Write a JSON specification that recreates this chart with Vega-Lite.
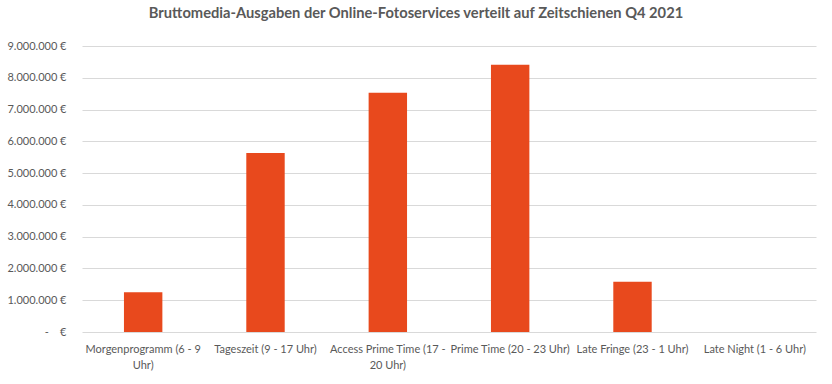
{
  "$schema": "https://vega.github.io/schema/vega-lite/v6.json",
  "width": 734,
  "height": 286,
  "autosize": {"type": "none"},
  "padding": {"left": 82, "top": 46, "right": 16, "bottom": 52},
  "background": "white",
  "title": {
    "text": "Bruttomedia-Ausgaben der Online-Fotoservices verteilt auf Zeitschienen Q4 2021",
    "font": "Lato",
    "fontSize": 14.7,
    "fontWeight": "bold",
    "color": "#595959",
    "anchor": "middle",
    "dx": -33,
    "offset": 19
  },
  "data": {
    "values": [
      {"Zeitschiene": "Morgenprogramm (6 - 9 Uhr)", "Ausgaben": 1250000},
      {"Zeitschiene": "Tageszeit (9 - 17 Uhr)", "Ausgaben": 5630000},
      {"Zeitschiene": "Access Prime Time (17 - 20 Uhr)", "Ausgaben": 7530000},
      {"Zeitschiene": "Prime Time (20 - 23 Uhr)", "Ausgaben": 8410000},
      {"Zeitschiene": "Late Fringe (23 - 1 Uhr)", "Ausgaben": 1580000},
      {"Zeitschiene": "Late Night (1 - 6 Uhr)", "Ausgaben": 0}
    ]
  },
  "mark": {"type": "bar", "color": "#E8491D"},
  "encoding": {
    "x": {
      "field": "Zeitschiene",
      "type": "nominal",
      "sort": null,
      "scale": {"paddingInner": 0.686, "paddingOuter": 0.343},
      "axis": {
        "title": null,
        "domain": false,
        "ticks": false,
        "labelAngle": 0,
        "labelFont": "Lato",
        "labelFontSize": 11,
        "labelColor": "#595959",
        "labelPadding": 11,
        "labelLineHeight": 16,
        "labelBaseline": "top",
        "labelLimit": 200,
        "labelExpr": "datum.value == 'Morgenprogramm (6 - 9 Uhr)' ? ['Morgenprogramm (6 - 9', 'Uhr)'] : datum.value == 'Access Prime Time (17 - 20 Uhr)' ? ['Access Prime Time (17 -', '20 Uhr)'] : datum.value"
      }
    },
    "y": {
      "field": "Ausgaben",
      "type": "quantitative",
      "scale": {"domain": [0, 9000000], "nice": false},
      "axis": {
        "title": null,
        "domain": false,
        "ticks": false,
        "values": [0, 1000000, 2000000, 3000000, 4000000, 5000000, 6000000, 7000000, 8000000, 9000000],
        "labelFont": "Lato",
        "labelFontSize": 11,
        "labelColor": "#595959",
        "labelPadding": 16,
        "gridColor": "#D9D9D9",
        "gridWidth": 1,
        "labelExpr": "datum.value == 0 ? '-\u00a0\u00a0\u00a0 €' : replace(format(datum.value, ',.0f'), regexp(',', 'g'), '.') + ' €'"
      }
    }
  },
  "config": {"view": {"stroke": null}}
}
